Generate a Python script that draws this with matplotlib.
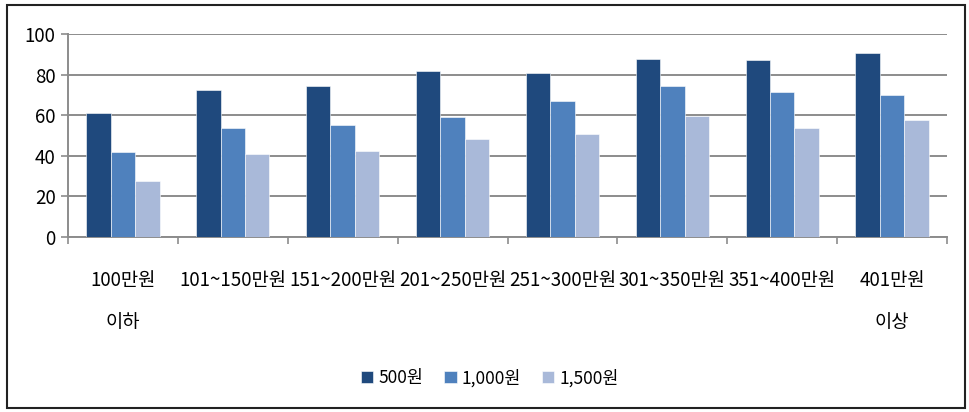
import matplotlib
matplotlib.use("Agg")
import matplotlib.pyplot as plt
from matplotlib.patches import Rectangle
import numpy as np

plt.rcParams['font.family'] = ['Noto Sans CJK KR', 'DejaVu Sans']

categories = ["100만원\n이하", "101~150만원", "151~200만원", "201~250만원",
              "251~300만원", "301~350만원", "351~400만원", "401만원\n이상"]
series_names = ["500원", "1,000원", "1,500원"]
v500 = [61, 72.5, 74.3, 81.6, 80.7, 87.9, 87.0, 90.7]
v1000 = [42, 53.6, 55.2, 59.3, 67.2, 74.4, 71.6, 69.8]
v1500 = [27.4, 41, 42.6, 48.4, 50.8, 59.8, 53.8, 57.4]
colors = ["#1F497D", "#4F81BD", "#A9B9D9"]

fig = plt.figure(figsize=(9.69, 4.12), dpi=100)
ax = fig.add_axes([68/969, 1-237/412, (947-68)/969, (237-34)/412])

x = np.arange(len(categories))
w = 0.222
for i, (vals, c, name) in enumerate(zip([v500, v1000, v1500], colors, series_names)):
    ax.bar(x + (i-1)*w, vals, width=w, color=c, label=name, zorder=3,
           edgecolor='white', linewidth=0.4)

ax.set_xlim(-0.5, len(categories)-0.5)
ax.set_ylim(0, 100)
ax.set_yticks(np.arange(0, 101, 20))
ax.yaxis.grid(True, color='#8c8c8c', linewidth=1.4, zorder=0)
ax.set_axisbelow(True)

ax.set_xticks(x)
ax.set_xticklabels(categories, fontsize=13.5, linespacing=2.3, color='black')
ax.set_xticks(np.arange(-0.5, len(categories)), minor=True)
ax.tick_params(axis='x', which='major', length=0, pad=24)
ax.tick_params(axis='x', which='minor', length=5, color='#8c8c8c', width=1.2, direction='out')
ax.tick_params(axis='y', length=5, color='#8c8c8c', width=1.2, labelsize=13.5, pad=4)

for s in ['top', 'right']:
    ax.spines[s].set_visible(False)
for s in ['left', 'bottom']:
    ax.spines[s].set_color('#8c8c8c')
    ax.spines[s].set_linewidth(1.4)

fig.legend(loc='center', bbox_to_anchor=(490/969, 1-378/412), ncol=3, frameon=False,
           fontsize=12.5, handlelength=0.7, handleheight=0.7, handletextpad=0.3,
           columnspacing=1.2)

fig.patches.append(Rectangle((7/969, 4/412), (965-7)/969, (407-4)/412, transform=fig.transFigure,
                             fill=False, edgecolor='#222222', linewidth=1.5))

fig.savefig("out.png", dpi=100)
